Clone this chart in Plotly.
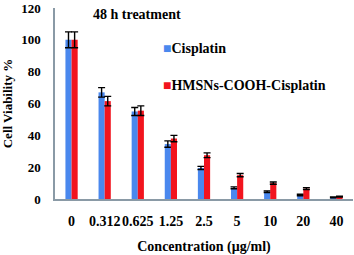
import plotly.graph_objects as go

categories = ["0", "0.312", "0.625", "1.25", "2.5", "5", "10", "20", "40"]
cisplatin = [100, 67, 55, 34.5, 19.5, 7, 4.5, 2.5, 1]
cisplatin_err = [5, 3, 2.5, 2, 1, 0.6, 0.5, 0.5, 0.3]
hmsn = [100, 61.5, 55.5, 38, 27.5, 15, 10, 6.5, 1.5]
hmsn_err = [5, 3, 3, 2, 1.5, 1, 0.7, 0.6, 0.3]
series_names = ["Cisplatin", "HMSNs-COOH-Cisplatin"]
colors = ["#4A88EE", "#F2141E"]

font = "Liberation Serif"
fig = go.Figure()
for name, vals, errs, col in zip(series_names, [cisplatin, hmsn], [cisplatin_err, hmsn_err], colors):
    fig.add_trace(go.Bar(x=categories, y=vals, name=name,
                         marker=dict(color=col, line=dict(width=0)),
                         error_y=dict(type="data", array=errs, color="black", thickness=1.4, width=3.5)))

legend_ann = []
for i, (name, col) in enumerate(zip(series_names, colors)):
    legend_ann.append(dict(
        text=f"<span style='color:{col}'>■</span><b>{name}</b>",
        x=0.355, y=0.79 - i * 0.198, xref="paper", yref="paper",
        xanchor="left", yanchor="middle", showarrow=False,
        font=dict(family=font, size=14, color="black")))

fig.update_layout(
    width=354, height=255,
    margin=dict(l=55, r=1, t=8, b=56),
    plot_bgcolor="white", paper_bgcolor="white",
    barmode="group", bargap=0.63, bargroupgap=0,
    font=dict(family=font, size=13, color="black"),
    showlegend=False,
    annotations=[dict(text="<b>48 h treatment</b>", x=0.12, y=1.015, xref="paper", yref="paper",
                      xanchor="left", yanchor="top", showarrow=False,
                      font=dict(family=font, size=14, color="black"))] + legend_ann,
)
fig.update_xaxes(showline=True, linecolor="#8A9AA6", linewidth=1.5, showgrid=False,
                 ticks="", ticklabelstandoff=8, automargin=False, tickangle=0,
                 tickfont=dict(family=font, size=14, weight="bold"),
                 title=dict(text="<b>Concentration (μg/ml)</b>", standoff=18,
                            font=dict(family=font, size=14)))
fig.update_yaxes(range=[0, 120], dtick=20,
                 showline=True, linecolor="#8A9AA6", linewidth=1.5,
                 showgrid=False, ticks="", ticklabelstandoff=10, automargin=False,
                 tickfont=dict(family=font, size=13, weight="bold"),
                 title=dict(text="<b>Cell Viability %</b>", standoff=8,
                            font=dict(family=font, size=13)))

fig.write_html("out.html", config={"displayModeBar": False},
               post_script="document.body.style.margin='0px';")
